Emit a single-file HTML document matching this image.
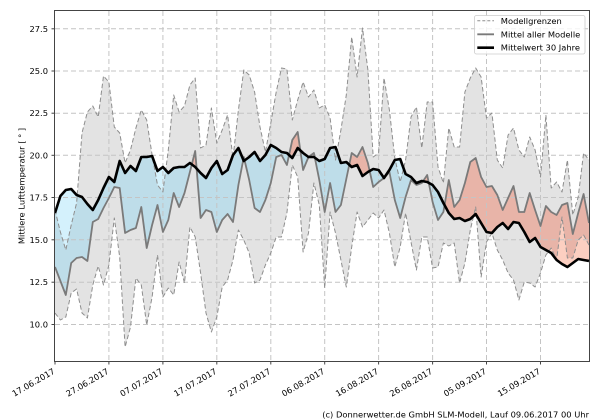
<!DOCTYPE html>
<html><head><meta charset="utf-8"><style>
html,body{margin:0;padding:0;background:#fff;}
svg{display:block;}
text{font-family:"DejaVu Sans","Liberation Sans",sans-serif;font-size:8.33px;fill:#000;}
</style></head><body>
<svg width="600" height="420" viewBox="0 0 600 420" xmlns="http://www.w3.org/2000/svg">
<defs>
<clipPath id="ax"><rect x="55" y="11" width="534" height="350"/></clipPath>
<clipPath id="belowB"><polygon points="55.0,213 60.4,196 65.8,190 71.2,189 76.6,195 82.0,197 87.4,204 92.8,210 98.2,200 103.5,188 108.9,177 114.3,182 119.7,161 125.1,173 130.5,166 135.9,171 141.3,157 146.7,157 152.1,156 157.5,171 162.9,167 168.3,173 173.7,168 179.1,167 184.5,167 189.9,163 195.2,167 200.6,173 206.0,178 211.4,168 216.8,161 222.2,174 227.6,170 233.0,155 238.4,148 243.8,161 249.2,157 254.6,152 260.0,161 265.4,155 270.8,145 276.2,148 281.5,152 286.9,153 292.3,158 297.7,148 303.1,153 308.5,157 313.9,157 319.3,161 324.7,159 330.1,148 335.5,147 340.9,163 346.3,162 351.7,167 357.1,165 362.5,176 367.9,172 373.2,169 378.6,170 384.0,178 389.4,170 394.8,160 400.2,159 405.6,174 411.0,177 416.4,183 421.8,181 427.2,182 432.6,185 438.0,192 443.4,203 448.8,213 454.2,219 459.6,218 464.9,221 470.3,219 475.7,214 481.1,223 486.5,232 491.9,233 497.3,227 502.7,223 508.1,229 513.5,222 518.9,223 524.3,232 529.7,242 535.1,238 540.5,247 545.9,250 551.2,253 556.6,260 562.0,264 567.4,267 572.8,263 578.2,259 583.6,260 589.0,261 589,365 55,365"/></clipPath>
<clipPath id="aboveB"><polygon points="55.0,213 60.4,196 65.8,190 71.2,189 76.6,195 82.0,197 87.4,204 92.8,210 98.2,200 103.5,188 108.9,177 114.3,182 119.7,161 125.1,173 130.5,166 135.9,171 141.3,157 146.7,157 152.1,156 157.5,171 162.9,167 168.3,173 173.7,168 179.1,167 184.5,167 189.9,163 195.2,167 200.6,173 206.0,178 211.4,168 216.8,161 222.2,174 227.6,170 233.0,155 238.4,148 243.8,161 249.2,157 254.6,152 260.0,161 265.4,155 270.8,145 276.2,148 281.5,152 286.9,153 292.3,158 297.7,148 303.1,153 308.5,157 313.9,157 319.3,161 324.7,159 330.1,148 335.5,147 340.9,163 346.3,162 351.7,167 357.1,165 362.5,176 367.9,172 373.2,169 378.6,170 384.0,178 389.4,170 394.8,160 400.2,159 405.6,174 411.0,177 416.4,183 421.8,181 427.2,182 432.6,185 438.0,192 443.4,203 448.8,213 454.2,219 459.6,218 464.9,221 470.3,219 475.7,214 481.1,223 486.5,232 491.9,233 497.3,227 502.7,223 508.1,229 513.5,222 518.9,223 524.3,232 529.7,242 535.1,238 540.5,247 545.9,250 551.2,253 556.6,260 562.0,264 567.4,267 572.8,263 578.2,259 583.6,260 589.0,261 589,5 55,5"/></clipPath>
<clipPath id="band"><polygon points="55.0,210 60.4,232 65.8,250 71.2,225 76.6,203 82.0,133 87.4,112 92.8,106 98.2,117 103.5,76 108.9,82 114.3,127 119.7,133 125.1,163 130.5,150 135.9,128 141.3,110 146.7,120 152.1,155 157.5,185 162.9,192 168.3,150 173.7,95 179.1,112 184.5,106 189.9,85 195.2,78 200.6,148 206.0,145 211.4,108 216.8,143 222.2,130 227.6,115 233.0,158 238.4,110 243.8,70 249.2,75 254.6,92 260.0,127 265.4,152 270.8,123 276.2,92 281.5,68 286.9,69 292.3,120 297.7,100 303.1,82 308.5,97 313.9,90 319.3,108 324.7,105 330.1,118 335.5,160 340.9,130 346.3,95 351.7,37 357.1,77 362.5,28 367.9,70 373.2,157 378.6,153 384.0,78 389.4,110 394.8,158 400.2,182 405.6,160 411.0,117 416.4,107 421.8,148 427.2,102 432.6,102 438.0,167 443.4,183 448.8,128 454.2,147 459.6,147 464.9,92 470.3,78 475.7,68 481.1,77 486.5,118 491.9,113 497.3,160 502.7,168 508.1,135 513.5,128 518.9,150 524.3,157 529.7,137 535.1,150 540.5,177 545.9,115 551.2,188 556.6,182 562.0,192 567.4,160 572.8,215 578.2,197 583.6,153 589.0,160 589.0,245 583.6,235 578.2,240 572.8,258 567.4,258 562.0,217 556.6,260 551.2,248 545.9,255 540.5,273 535.1,287 529.7,283 524.3,282 518.9,300 513.5,280 508.1,273 502.7,260 497.3,250 491.9,233 486.5,242 481.1,277 475.7,207 470.3,230 464.9,263 459.6,283 454.2,243 448.8,246 443.4,243 438.0,267 432.6,268 427.2,237 421.8,237 416.4,270 411.0,242 405.6,213 400.2,247 394.8,267 389.4,233 384.0,210 378.6,218 373.2,213 367.9,220 362.5,227 357.1,212 351.7,247 346.3,287 340.9,260 335.5,233 330.1,212 324.7,288 319.3,205 313.9,183 308.5,233 303.1,252 297.7,177 292.3,165 286.9,213 281.5,237 276.2,237 270.8,253 265.4,265 260.0,280 254.6,283 249.2,253 243.8,240 238.4,230 233.0,260 227.6,280 222.2,287 216.8,317 211.4,332 206.0,313 200.6,273 195.2,237 189.9,227 184.5,283 179.1,262 173.7,295 168.3,288 162.9,297 157.5,255 152.1,297 146.7,325 141.3,285 135.9,278 130.5,327 125.1,347 119.7,257 114.3,218 108.9,265 103.5,285 98.2,266 92.8,285 87.4,318 82.0,313 76.6,289 71.2,293 65.8,317 60.4,320 55.0,313"/></clipPath>
<polygon id="aboveM" points="55.0,267 60.4,281 65.8,295 71.2,263 76.6,258 82.0,257 87.4,261 92.8,222 98.2,219 103.5,208 108.9,198 114.3,187 119.7,188 125.1,233 130.5,230 135.9,228 141.3,207 146.7,248 152.1,225 157.5,205 162.9,232 168.3,220 173.7,193 179.1,207 184.5,193 189.9,172 195.2,151 200.6,218 206.0,210 211.4,212 216.8,232 222.2,220 227.6,214 233.0,222 238.4,185 243.8,157 249.2,180 254.6,208 260.0,212 265.4,200 270.8,183 276.2,157 281.5,155 286.9,165 292.3,140 297.7,132 303.1,170 308.5,157 313.9,153 319.3,180 324.7,212 330.1,183 335.5,212 340.9,205 346.3,179 351.7,153 357.1,157 362.5,147 367.9,163 373.2,187 378.6,182 384.0,178 389.4,172 394.8,200 400.2,218 405.6,197 411.0,180 416.4,185 421.8,183 427.2,175 432.6,202 438.0,220 443.4,212 448.8,180 454.2,207 459.6,200 464.9,183 470.3,162 475.7,158 481.1,177 486.5,187 491.9,186 497.3,195 502.7,210 508.1,198 513.5,186 518.9,212 524.3,212 529.7,193 535.1,210 540.5,226 545.9,206 551.2,212 556.6,215 562.0,205 567.4,203 572.8,234 578.2,213 583.6,194 589.0,223 589,5 55,5"/>
<polygon id="belowM" points="55.0,267 60.4,281 65.8,295 71.2,263 76.6,258 82.0,257 87.4,261 92.8,222 98.2,219 103.5,208 108.9,198 114.3,187 119.7,188 125.1,233 130.5,230 135.9,228 141.3,207 146.7,248 152.1,225 157.5,205 162.9,232 168.3,220 173.7,193 179.1,207 184.5,193 189.9,172 195.2,151 200.6,218 206.0,210 211.4,212 216.8,232 222.2,220 227.6,214 233.0,222 238.4,185 243.8,157 249.2,180 254.6,208 260.0,212 265.4,200 270.8,183 276.2,157 281.5,155 286.9,165 292.3,140 297.7,132 303.1,170 308.5,157 313.9,153 319.3,180 324.7,212 330.1,183 335.5,212 340.9,205 346.3,179 351.7,153 357.1,157 362.5,147 367.9,163 373.2,187 378.6,182 384.0,178 389.4,172 394.8,200 400.2,218 405.6,197 411.0,180 416.4,185 421.8,183 427.2,175 432.6,202 438.0,220 443.4,212 448.8,180 454.2,207 459.6,200 464.9,183 470.3,162 475.7,158 481.1,177 486.5,187 491.9,186 497.3,195 502.7,210 508.1,198 513.5,186 518.9,212 524.3,212 529.7,193 535.1,210 540.5,226 545.9,206 551.2,212 556.6,215 562.0,205 567.4,203 572.8,234 578.2,213 583.6,194 589.0,223 589,365 55,365"/>
</defs>
<rect x="0" y="0" width="600" height="420" fill="#fff"/>
<g clip-path="url(#ax)">
<!-- light fills (outside model band) -->
<g clip-path="url(#belowB)"><use href="#aboveM" fill="#d4f1fc"/></g>
<g clip-path="url(#aboveB)"><use href="#belowM" fill="#fccfc1"/></g>
<!-- model range band -->
<rect x="55" y="11" width="534" height="350" fill="#e3e3e3" clip-path="url(#band)"/>
<!-- fills inside band -->
<g clip-path="url(#band)">
<g clip-path="url(#belowB)"><use href="#aboveM" fill="#bedde9"/></g>
<g clip-path="url(#aboveB)"><use href="#belowM" fill="#e8b4a8"/></g>
</g>
<!-- grid -->
<g stroke="#c4c4c4" stroke-width="1" stroke-dasharray="5,3" fill="none">
<line x1="108.9" y1="11" x2="108.9" y2="361"/>
<line x1="162.9" y1="11" x2="162.9" y2="361"/>
<line x1="216.8" y1="11" x2="216.8" y2="361"/>
<line x1="270.8" y1="11" x2="270.8" y2="361"/>
<line x1="324.7" y1="11" x2="324.7" y2="361"/>
<line x1="378.6" y1="11" x2="378.6" y2="361"/>
<line x1="432.6" y1="11" x2="432.6" y2="361"/>
<line x1="486.5" y1="11" x2="486.5" y2="361"/>
<line x1="540.5" y1="11" x2="540.5" y2="361"/>
<line x1="55" y1="28.8" x2="589" y2="28.8"/>
<line x1="55" y1="71.0" x2="589" y2="71.0"/>
<line x1="55" y1="113.2" x2="589" y2="113.2"/>
<line x1="55" y1="155.3" x2="589" y2="155.3"/>
<line x1="55" y1="197.5" x2="589" y2="197.5"/>
<line x1="55" y1="239.8" x2="589" y2="239.8"/>
<line x1="55" y1="282.2" x2="589" y2="282.2"/>
<line x1="55" y1="324.5" x2="589" y2="324.5"/>
</g>
<!-- bounds -->
<g stroke="#8e8e8e" stroke-width="1" stroke-dasharray="4.5,2.5" fill="none" stroke-linejoin="round">
<polyline points="55.0,210 60.4,232 65.8,250 71.2,225 76.6,203 82.0,133 87.4,112 92.8,106 98.2,117 103.5,76 108.9,82 114.3,127 119.7,133 125.1,163 130.5,150 135.9,128 141.3,110 146.7,120 152.1,155 157.5,185 162.9,192 168.3,150 173.7,95 179.1,112 184.5,106 189.9,85 195.2,78 200.6,148 206.0,145 211.4,108 216.8,143 222.2,130 227.6,115 233.0,158 238.4,110 243.8,70 249.2,75 254.6,92 260.0,127 265.4,152 270.8,123 276.2,92 281.5,68 286.9,69 292.3,120 297.7,100 303.1,82 308.5,97 313.9,90 319.3,108 324.7,105 330.1,118 335.5,160 340.9,130 346.3,95 351.7,37 357.1,77 362.5,28 367.9,70 373.2,157 378.6,153 384.0,78 389.4,110 394.8,158 400.2,182 405.6,160 411.0,117 416.4,107 421.8,148 427.2,102 432.6,102 438.0,167 443.4,183 448.8,128 454.2,147 459.6,147 464.9,92 470.3,78 475.7,68 481.1,77 486.5,118 491.9,113 497.3,160 502.7,168 508.1,135 513.5,128 518.9,150 524.3,157 529.7,137 535.1,150 540.5,177 545.9,115 551.2,188 556.6,182 562.0,192 567.4,160 572.8,215 578.2,197 583.6,153 589.0,160"/>
<polyline points="55.0,313 60.4,320 65.8,317 71.2,293 76.6,289 82.0,313 87.4,318 92.8,285 98.2,266 103.5,285 108.9,265 114.3,218 119.7,257 125.1,347 130.5,327 135.9,278 141.3,285 146.7,325 152.1,297 157.5,255 162.9,297 168.3,288 173.7,295 179.1,262 184.5,283 189.9,227 195.2,237 200.6,273 206.0,313 211.4,332 216.8,317 222.2,287 227.6,280 233.0,260 238.4,230 243.8,240 249.2,253 254.6,283 260.0,280 265.4,265 270.8,253 276.2,237 281.5,237 286.9,213 292.3,165 297.7,177 303.1,252 308.5,233 313.9,183 319.3,205 324.7,288 330.1,212 335.5,233 340.9,260 346.3,287 351.7,247 357.1,212 362.5,227 367.9,220 373.2,213 378.6,218 384.0,210 389.4,233 394.8,267 400.2,247 405.6,213 411.0,242 416.4,270 421.8,237 427.2,237 432.6,268 438.0,267 443.4,243 448.8,246 454.2,243 459.6,283 464.9,263 470.3,230 475.7,207 481.1,277 486.5,242 491.9,233 497.3,250 502.7,260 508.1,273 513.5,280 518.9,300 524.3,282 529.7,283 535.1,287 540.5,273 545.9,255 551.2,248 556.6,260 562.0,217 567.4,258 572.8,258 578.2,240 583.6,235 589.0,245"/>
</g>
<!-- model mean -->
<polyline fill="none" stroke="#7a7a7a" stroke-width="1.8" stroke-linejoin="round" points="55.0,267 60.4,281 65.8,295 71.2,263 76.6,258 82.0,257 87.4,261 92.8,222 98.2,219 103.5,208 108.9,198 114.3,187 119.7,188 125.1,233 130.5,230 135.9,228 141.3,207 146.7,248 152.1,225 157.5,205 162.9,232 168.3,220 173.7,193 179.1,207 184.5,193 189.9,172 195.2,151 200.6,218 206.0,210 211.4,212 216.8,232 222.2,220 227.6,214 233.0,222 238.4,185 243.8,157 249.2,180 254.6,208 260.0,212 265.4,200 270.8,183 276.2,157 281.5,155 286.9,165 292.3,140 297.7,132 303.1,170 308.5,157 313.9,153 319.3,180 324.7,212 330.1,183 335.5,212 340.9,205 346.3,179 351.7,153 357.1,157 362.5,147 367.9,163 373.2,187 378.6,182 384.0,178 389.4,172 394.8,200 400.2,218 405.6,197 411.0,180 416.4,185 421.8,183 427.2,175 432.6,202 438.0,220 443.4,212 448.8,180 454.2,207 459.6,200 464.9,183 470.3,162 475.7,158 481.1,177 486.5,187 491.9,186 497.3,195 502.7,210 508.1,198 513.5,186 518.9,212 524.3,212 529.7,193 535.1,210 540.5,226 545.9,206 551.2,212 556.6,215 562.0,205 567.4,203 572.8,234 578.2,213 583.6,194 589.0,223"/>
<!-- 30 year mean -->
<polyline fill="none" stroke="#000" stroke-width="2.6" stroke-linejoin="round" points="55.0,213 60.4,196 65.8,190 71.2,189 76.6,195 82.0,197 87.4,204 92.8,210 98.2,200 103.5,188 108.9,177 114.3,182 119.7,161 125.1,173 130.5,166 135.9,171 141.3,157 146.7,157 152.1,156 157.5,171 162.9,167 168.3,173 173.7,168 179.1,167 184.5,167 189.9,163 195.2,167 200.6,173 206.0,178 211.4,168 216.8,161 222.2,174 227.6,170 233.0,155 238.4,148 243.8,161 249.2,157 254.6,152 260.0,161 265.4,155 270.8,145 276.2,148 281.5,152 286.9,153 292.3,158 297.7,148 303.1,153 308.5,157 313.9,157 319.3,161 324.7,159 330.1,148 335.5,147 340.9,163 346.3,162 351.7,167 357.1,165 362.5,176 367.9,172 373.2,169 378.6,170 384.0,178 389.4,170 394.8,160 400.2,159 405.6,174 411.0,177 416.4,183 421.8,181 427.2,182 432.6,185 438.0,192 443.4,203 448.8,213 454.2,219 459.6,218 464.9,221 470.3,219 475.7,214 481.1,223 486.5,232 491.9,233 497.3,227 502.7,223 508.1,229 513.5,222 518.9,223 524.3,232 529.7,242 535.1,238 540.5,247 545.9,250 551.2,253 556.6,260 562.0,264 567.4,267 572.8,263 578.2,259 583.6,260 589.0,261"/>
</g>
<!-- spines -->
<rect x="54.5" y="10.5" width="535" height="351" fill="none" stroke="#444" stroke-width="1"/>
<!-- ticks -->
<g stroke="#444" stroke-width="1">
<line x1="51.5" y1="28.8" x2="55" y2="28.8"/>
<line x1="51.5" y1="71.0" x2="55" y2="71.0"/>
<line x1="51.5" y1="113.2" x2="55" y2="113.2"/>
<line x1="51.5" y1="155.3" x2="55" y2="155.3"/>
<line x1="51.5" y1="197.5" x2="55" y2="197.5"/>
<line x1="51.5" y1="239.8" x2="55" y2="239.8"/>
<line x1="51.5" y1="282.2" x2="55" y2="282.2"/>
<line x1="51.5" y1="324.5" x2="55" y2="324.5"/>
<line x1="55" y1="361" x2="55" y2="364.5"/>
<line x1="108.9" y1="361" x2="108.9" y2="364.5"/>
<line x1="162.9" y1="361" x2="162.9" y2="364.5"/>
<line x1="216.8" y1="361" x2="216.8" y2="364.5"/>
<line x1="270.8" y1="361" x2="270.8" y2="364.5"/>
<line x1="324.7" y1="361" x2="324.7" y2="364.5"/>
<line x1="378.6" y1="361" x2="378.6" y2="364.5"/>
<line x1="432.6" y1="361" x2="432.6" y2="364.5"/>
<line x1="486.5" y1="361" x2="486.5" y2="364.5"/>
<line x1="540.5" y1="361" x2="540.5" y2="364.5"/>
</g>
<!-- y tick labels -->
<g text-anchor="end">
<text x="48" y="31.8">27.5</text>
<text x="48" y="74.0">25.0</text>
<text x="48" y="116.2">22.5</text>
<text x="48" y="158.3">20.0</text>
<text x="48" y="200.5">17.5</text>
<text x="48" y="242.8">15.0</text>
<text x="48" y="285.2">12.5</text>
<text x="48" y="327.5">10.0</text>
</g>
<!-- x tick labels -->
<g text-anchor="end">
<text transform="translate(55.5,373) rotate(-30)">17.06.2017</text>
<text transform="translate(109.4,373) rotate(-30)">27.06.2017</text>
<text transform="translate(163.4,373) rotate(-30)">07.07.2017</text>
<text transform="translate(217.3,373) rotate(-30)">17.07.2017</text>
<text transform="translate(271.3,373) rotate(-30)">27.07.2017</text>
<text transform="translate(325.2,373) rotate(-30)">06.08.2017</text>
<text transform="translate(379.1,373) rotate(-30)">16.08.2017</text>
<text transform="translate(433.1,373) rotate(-30)">26.08.2017</text>
<text transform="translate(487.0,373) rotate(-30)">05.09.2017</text>
<text transform="translate(541.0,373) rotate(-30)">15.09.2017</text>
</g>
<!-- y label -->
<text transform="translate(24.5,186) rotate(-90)" text-anchor="middle">Mittlere Lufttemperatur [ ° ]</text>
<!-- legend -->
<rect x="474.5" y="15.5" width="110.5" height="38.5" rx="2" ry="2" fill="rgba(255,255,255,0.8)" stroke="#cccccc" stroke-width="0.8"/>
<line x1="477.3" y1="20.8" x2="494" y2="20.8" stroke="#8e8e8e" stroke-width="1" stroke-dasharray="3,2"/>
<line x1="477.3" y1="34.3" x2="494" y2="34.3" stroke="#7a7a7a" stroke-width="1.8"/>
<line x1="477.3" y1="47.7" x2="494" y2="47.7" stroke="#000" stroke-width="2.6"/>
<text x="500.8" y="23.8">Modellgrenzen</text>
<text x="500.8" y="37.3">Mittel aller Modelle</text>
<text x="500.8" y="50.7">Mittelwert 30 Jahre</text>
<!-- footer -->
<text x="589" y="417.5" text-anchor="end">(c) Donnerwetter.de GmbH SLM-Modell, Lauf 09.06.2017 00 Uhr</text>
</svg>
</body></html>
